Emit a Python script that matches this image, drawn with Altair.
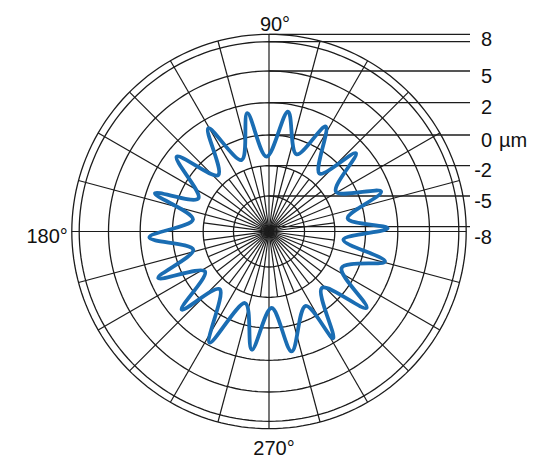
import altair as alt
import numpy as np
import pandas as pd

# Roundness profile: alternating crests and valleys, angle in degrees, deviation in µm
profile_angle = [1.5, 9.5, 19.6, 30.7, 42.0, 49.2, 61.5, 70.5, 81.1, 91.8,
                 100.4, 110.9, 120.5, 131.9, 141.0, 154.8, 161.5, 171.0, 182.8, 193.5,
                 202.8, 211.9, 221.8, 229.9, 241.8, 251.4, 261.7, 272.0, 280.7, 296.0,
                 301.1, 313.0, 321.9, 333.3, 345.6, 353.7]
profile_um = [1.37, -1.09, 1.39, -1.21, 1.27, -1.28, 1.41, -0.95, 1.54, -1.41,
              1.47, -1.30, 1.44, -1.34, 1.38, -1.21, 1.47, -1.27, 1.44, -1.21,
              1.46, -1.37, 1.28, -1.34, 1.83, -1.37, 1.42, -1.30, 1.58, -0.88,
              1.73, -1.25, 1.70, -0.99, 1.44, -1.41]

# Grid rings (µm levels) and their tick labels
ring_levels = [8, 5, 2, 0, -2, -5, -8]
ring_labels = ["8", "5", "2", "0", "-2", "-5", "-8"]
unit_label = "µm"
angle_labels = ["90°", "180°", "270°"]

# Spokes: every 15° out to the frame, intermediate ones to the -2 ring
long_spokes = list(range(0, 360, 15))
short_spokes = [7.5 + 15 * k for k in range(24)]
SHORT_SPOKE_LEVEL = -2

# Radial scale: piecewise-linear from µm level to radius (plot units = px)
RADIAL_DOMAIN = [-8, -5, -2, 0, 2, 5, 8]
RADIAL_RANGE = [4.8, 35.5, 65.8, 96.5, 128.8, 160.5, 189.8]
FRAME_R = 197.2
LABEL_LINE_END = 201

W, H = 551, 460
CX, CY = 269, 231.5
xs = alt.Scale(domain=[-CX, W - CX], nice=False, zero=False)
ys = alt.Scale(domain=[CY - H, CY], nice=False, zero=False)

INK = "#1c1c1c"
BLUE = "#1a6db3"
FONT = "Liberation Sans"


def radial(field):
    d, r = RADIAL_DOMAIN, RADIAL_RANGE
    expr = f"{r[-1]}"
    for i in reversed(range(len(d) - 1)):
        slope = (r[i + 1] - r[i]) / (d[i + 1] - d[i])
        seg = f"({r[i]} + ({field} - ({d[i]})) * {slope})"
        expr = f"({field} <= {d[i + 1]} ? {seg} : {expr})"
    return expr


def polar_xy(chart, r_expr, ang="datum.angle"):
    return chart.transform_calculate(
        r=r_expr
    ).transform_calculate(
        x=f"datum.r * cos({ang} * PI / 180)",
        y=f"datum.r * sin({ang} * PI / 180)",
    )


X = alt.X("x:Q", scale=xs, axis=None)
Y = alt.Y("y:Q", scale=ys, axis=None)

# Ring circles
sample = np.arange(0, 361, 2)
ring_df = pd.DataFrame([(lv, a) for lv in ring_levels for a in sample],
                       columns=["level", "angle"])
rings = polar_xy(alt.Chart(ring_df), radial("datum.level")).mark_line(
    color=INK, strokeWidth=1.3
).encode(x=X, y=Y, detail="level:N", order="angle:Q")

frame_df = pd.DataFrame({"angle": sample})
frame = polar_xy(alt.Chart(frame_df), f"{FRAME_R}").mark_line(
    color=INK, strokeWidth=1.3
).encode(x=X, y=Y, order="angle:Q")


def spokes(angles, reach_expr):
    return alt.Chart(pd.DataFrame({"angle": angles})).transform_calculate(
        reach=reach_expr
    ).transform_calculate(
        x0="0", y0="0",
        x1="datum.reach * cos(datum.angle * PI / 180)",
        y1="datum.reach * sin(datum.angle * PI / 180)",
    ).mark_rule(color=INK, strokeWidth=1.2).encode(
        x=alt.X("x0:Q", scale=xs, axis=None), y=alt.Y("y0:Q", scale=ys, axis=None),
        x2="x1:Q", y2="y1:Q")


long_rules = spokes(long_spokes, f"{FRAME_R}")
short_rules = spokes(short_spokes, radial(f"({SHORT_SPOKE_LEVEL})"))

# Leader lines from the top of each ring to its label
lab_df = pd.DataFrame({"level": ring_levels, "label": ring_labels})
leaders = alt.Chart(lab_df).transform_calculate(
    r=radial("datum.level"), x0="0", xe=f"{LABEL_LINE_END}"
).mark_rule(color=INK, strokeWidth=1.3).encode(
    x=alt.X("x0:Q", scale=xs, axis=None), y=alt.Y("r:Q", scale=ys, axis=None),
    x2="xe:Q")
frame_leader = alt.Chart(pd.DataFrame({"r": [FRAME_R]})).transform_calculate(
    x0="0", xe=f"{LABEL_LINE_END}"
).mark_rule(color=INK, strokeWidth=1.3).encode(
    x=alt.X("x0:Q", scale=xs, axis=None), y=alt.Y("r:Q", scale=ys, axis=None),
    x2="xe:Q")


# Ring labels
def ring_text(labels, dy):
    return alt.Chart(lab_df).transform_filter(
        alt.FieldOneOfPredicate(field="label", oneOf=labels)
    ).transform_calculate(
        r=radial("datum.level"), xl=f"{LABEL_LINE_END + 22}"
    ).mark_text(align="right", baseline="alphabetic", fontSize=20, font=FONT,
                color="#111", dy=dy).encode(
        x=alt.X("xl:Q", scale=xs, axis=None), y=alt.Y("r:Q", scale=ys, axis=None),
        text="label:N")


labels_main = ring_text(["5", "2", "0", "-2", "-5"], 11.5)
label_top = ring_text(["8"], 4.3)
label_low = ring_text(["-8"], 17.3)

unit = alt.Chart(lab_df).transform_filter(
    alt.datum.level == 0
).transform_calculate(
    r=radial("datum.level"), xl=f"{LABEL_LINE_END + 29}", t=f"'{unit_label}'"
).mark_text(align="left", baseline="alphabetic", fontSize=20, font=FONT,
            color="#111", dy=11.5).encode(
    x=alt.X("xl:Q", scale=xs, axis=None), y=alt.Y("r:Q", scale=ys, axis=None),
    text="t:N")

# Angle labels around the frame
ang_df = pd.DataFrame({"label": angle_labels, "angle": [90, 180, 270]})


def angle_text(label, align, dx, dy):
    return polar_xy(
        alt.Chart(ang_df).transform_filter(alt.datum.label == label), f"{FRAME_R}"
    ).mark_text(align=align, baseline="alphabetic", fontSize=20, font=FONT,
                color="#111", dx=dx, dy=dy).encode(x=X, y=Y, text="label:N")


a90 = angle_text("90°", "center", 6, -3.3)
a180 = angle_text("180°", "right", -4, 11.5)
a270 = angle_text("270°", "center", 5, 26.3)

# Measured profile
prof_df = pd.DataFrame({"i": range(len(profile_angle)),
                        "angle": profile_angle, "um": profile_um})
profile = polar_xy(alt.Chart(prof_df), radial("datum.um")).mark_line(
    interpolate="cardinal-closed", color=BLUE, strokeWidth=3.8
).encode(x=X, y=Y, order="i:Q")

chart = alt.layer(
    rings, frame, long_rules, short_rules, leaders, frame_leader,
    profile, labels_main, label_top, label_low, unit, a90, a180, a270
).properties(
    width=W, height=H, padding=0,
    autosize=alt.AutoSizeParams(type="none"),
    background="white",
).configure_view(stroke=None)

chart.save("out.html", embed_options={"renderer": "svg", "actions": False})
